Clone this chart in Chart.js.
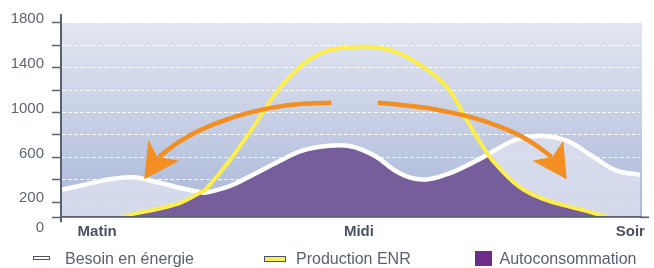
<!DOCTYPE html>
<html>
<head>
<meta charset="utf-8">
<script src="https://cdn.jsdelivr.net/npm/chart.js@4.4.1/dist/chart.umd.min.js"></script>
<style>
  html, body { margin: 0; padding: 0; background: #ffffff; }
  #wrap { position: relative; width: 654px; height: 268px; overflow: hidden; }
  #chart { position: absolute; left: 0; top: 0; }
  #legend { position: absolute; left: 0; top: 0; width: 654px; height: 268px; pointer-events: none;
            font-family: 'Liberation Sans', Arial, sans-serif; font-size: 16px; color: #5a6172; }
  #legend .sw { position: absolute; box-sizing: border-box; }
  #legend .txt { position: absolute; top: 250px; height: 18px; line-height: 18px; white-space: nowrap; }
</style>
</head>
<body>
<div id="wrap">
  <canvas id="chart" width="654" height="268"></canvas>
  <div id="legend"></div>
</div>
<script>
// ---- data ----
const hours = [0, 1, 2, 3, 4, 5, 5.8, 6, 7, 8, 9, 10, 11, 12, 13, 14, 15, 16, 17, 17.7, 18, 19, 20, 21, 22, 23, 24];
const besoin = [312, 357, 405, 423, 378, 325, 290, 286, 345, 450, 562, 660, 702, 700, 615, 464, 402, 450, 547, 626, 667, 767, 792, 745, 615, 485, 445];
const production = [0, 0, 40, 97, 140, 200, 290, 315, 575, 880, 1200, 1425, 1549, 1582, 1584, 1530, 1408, 1225, 866, 626, 544, 338, 228, 166, 109, 50, 0];
const autoconsommation = [0, 0, 40, 97, 140, 200, 290, 286, 345, 450, 562, 660, 702, 700, 615, 464, 402, 450, 547, 626, 544, 338, 228, 166, 109, 50, 0];
const seriesNames = ['Besoin en énergie', 'Production ENR', 'Autoconsommation'];
const xTickHours = [1.5, 12.35, 23.6];
const xTickLabels = ['Matin', 'Midi', 'Soir'];
const yTickValues = [-67, 66, 200, 400, 600, 800, 1000, 1200, 1400, 1600, 1800];
const yTickLabels = ['0', '', '200', '', '600', '', '1000', '', '1400', '', '1800'];
const yMin = 66, yMax = 1870, xMin = 0, xMax = 24;

// annotation arrows, in data units (hour, value)
const arrowLeftShaft = [[11.2, 1087], [9.88, 1082], [8.5, 1037], [7.11, 963], [5.73, 844], [4.76, 726], [4.07, 606]];
const arrowLeftHead = [[3.45, 405], [3.62, 755], [3.99, 606], [4.9, 571]];
const arrowRightShaft = [[13.13, 1087], [14.73, 1058], [16.11, 1007], [17.49, 933], [18.88, 815], [19.71, 710], [20.33, 606]];
const arrowRightHead = [[20.96, 405], [20.82, 749], [20.37, 606], [19.54, 571]];

// ---- styles ----
const axisColor = '#596070';
const FONT = "'Liberation Sans', Arial, sans-serif";
Chart.defaults.font.family = FONT;

const toPoints = arr => hours.map((h, i) => ({ x: h, y: arr[i] }));

const plotBackground = {
  id: 'plotBackground',
  beforeDraw(chart) {
    const { ctx, chartArea: a, scales: { y } } = chart;
    const top = y.getPixelForValue(Math.max(...yTickValues));
    const g = ctx.createLinearGradient(0, top, 0, a.bottom);
    g.addColorStop(0, '#e4e7f1');
    g.addColorStop(1, '#a9b7d8');
    ctx.save();
    ctx.fillStyle = g;
    ctx.fillRect(a.left, top, a.right + 2 - a.left, a.bottom - top);
    ctx.restore();
  }
};

const arrowsPlugin = {
  id: 'arrows',
  afterDatasetsDraw(chart) {
    const { ctx, scales: { x, y } } = chart;
    const px = p => [x.getPixelForValue(p[0]), y.getPixelForValue(p[1])];
    const drawArrow = (shaft, head) => {
      const s = shaft.map(px);
      ctx.save();
      ctx.strokeStyle = '#f28e22';
      ctx.fillStyle = '#f28e22';
      ctx.lineWidth = 4.5;
      ctx.lineCap = 'butt';
      ctx.lineJoin = 'round';
      ctx.beginPath();
      ctx.moveTo(s[0][0], s[0][1]);
      for (let i = 1; i < s.length - 1; i++) {
        const mx = (s[i][0] + s[i + 1][0]) / 2, my = (s[i][1] + s[i + 1][1]) / 2;
        ctx.quadraticCurveTo(s[i][0], s[i][1], mx, my);
      }
      ctx.lineTo(s[s.length - 1][0], s[s.length - 1][1]);
      ctx.stroke();
      const h = head.map(px);
      ctx.beginPath();
      ctx.moveTo(h[0][0], h[0][1]);
      for (let i = 1; i < h.length; i++) ctx.lineTo(h[i][0], h[i][1]);
      ctx.closePath();
      ctx.fill();
      ctx.restore();
    };
    drawArrow(arrowLeftShaft, arrowLeftHead);
    drawArrow(arrowRightShaft, arrowRightHead);
  }
};

const axisExtensions = {
  id: 'axisExtensions',
  afterDraw(chart) {
    const { ctx, chartArea: a } = chart;
    ctx.save();
    ctx.strokeStyle = axisColor;
    ctx.lineWidth = 1.7;
    ctx.beginPath();
    ctx.moveTo(a.right, a.bottom);
    ctx.lineTo(a.right + 9, a.bottom);
    ctx.stroke();
    ctx.lineWidth = 2;
    ctx.beginPath();
    ctx.moveTo(a.left, a.bottom);
    ctx.lineTo(a.left, a.bottom + 5);
    ctx.stroke();
    ctx.restore();
  }
};

// legend swatch styles and placement (HTML legend built from the chart's datasets)
const legendStyles = [
  { swLeft: 33, swTop: 256, swW: 17, swH: 4, bg: '#ffffff', border: '1.5px solid #4b5262', textLeft: 65 },
  { swLeft: 263.5, swTop: 256, swW: 22, swH: 6, bg: '#fbec4f', border: '1.5px solid #4b5262', textLeft: 296 },
  { swLeft: 474.5, swTop: 250.5, swW: 17, swH: 15, bg: '#6e2c89', border: 'none', textLeft: 499.5 }
];
const htmlLegend = {
  id: 'htmlLegend',
  afterUpdate(chart) {
    const box = document.getElementById('legend');
    box.innerHTML = '';
    chart.data.datasets.forEach((ds, i) => {
      const st = legendStyles[i];
      const sw = document.createElement('div');
      sw.className = 'sw';
      Object.assign(sw.style, { left: st.swLeft + 'px', top: st.swTop + 'px', width: st.swW + 'px', height: st.swH + 'px', background: st.bg, border: st.border });
      const t = document.createElement('div');
      t.className = 'txt';
      t.style.left = st.textLeft + 'px';
      t.textContent = ds.label;
      box.appendChild(sw);
      box.appendChild(t);
    });
  }
};

new Chart(document.getElementById('chart'), {
  type: 'line',
  data: {
    datasets: [
      { label: seriesNames[0], data: toPoints(besoin), borderColor: '#ffffff', borderWidth: 4.5,
        backgroundColor: 'rgba(218,223,238,0.85)', fill: 'start', order: 2 },
      { label: seriesNames[1], data: toPoints(production), borderColor: '#fcee4c', borderWidth: 4,
        backgroundColor: 'rgba(0,0,0,0)', fill: false, order: 0 },
      { label: seriesNames[2], data: toPoints(autoconsommation), borderColor: 'rgba(0,0,0,0)', borderWidth: 0,
        backgroundColor: 'rgba(110,84,149,0.93)', fill: 'start', order: 1 }
    ]
  },
  options: {
    responsive: false,
    animation: false,
    devicePixelRatio: 1,
    events: [],
    layout: { padding: { top: 15, right: 14, bottom: 25.7, left: 0 } },
    elements: {
      point: { radius: 0, hoverRadius: 0 },
      line: { tension: 0.4, capBezierPoints: true }
    },
    datasets: { line: { clip: 0 } },
    plugins: {
      legend: { display: false },
      tooltip: { enabled: false },
      filler: { drawTime: 'beforeDatasetsDraw' }
    },
    scales: {
      x: {
        type: 'linear', min: xMin, max: xMax,
        afterBuildTicks: s => { s.ticks = xTickHours.map(v => ({ value: v })); },
        afterFit: s => { s.height = 25; s.paddingLeft = 0; s.paddingRight = 0; },
        grid: { display: false, drawTicks: false },
        border: { display: true, color: axisColor, width: 1.7, z: 1 },
        ticks: { autoSkip: false, maxRotation: 0, padding: 5.4, color: '#4a5262',
                 font: { size: 15, weight: 'bold' }, callback: (v, i) => xTickLabels[i] }
      },
      y: {
        min: yMin, max: yMax,
        afterBuildTicks: s => { s.ticks = yTickValues.map(v => ({ value: v })); },
        afterFit: s => { s.width = 61; s.paddingTop = 0; s.paddingBottom = 0; },
        grid: {
          lineWidth: 1,
          color: c => (c.tick && c.tick.value >= 200) ? 'rgba(255,255,255,0.9)' : 'rgba(0,0,0,0)',
          tickLength: 9,
          tickWidth: 1.5,
          tickBorderDash: [],
          tickColor: c => (c.tick && c.tick.value >= yMin) ? axisColor : 'rgba(0,0,0,0)'
        },
        border: { display: true, color: axisColor, width: 2, dash: [4, 2], z: 1 },
        ticks: { autoSkip: false, padding: 8, labelOffset: -4, color: '#5e6576',
                 font: { size: 15 }, callback: (v, i) => yTickLabels[i] }
      }
    }
  },
  plugins: [plotBackground, arrowsPlugin, axisExtensions, htmlLegend]
});
</script>
</body>
</html>
